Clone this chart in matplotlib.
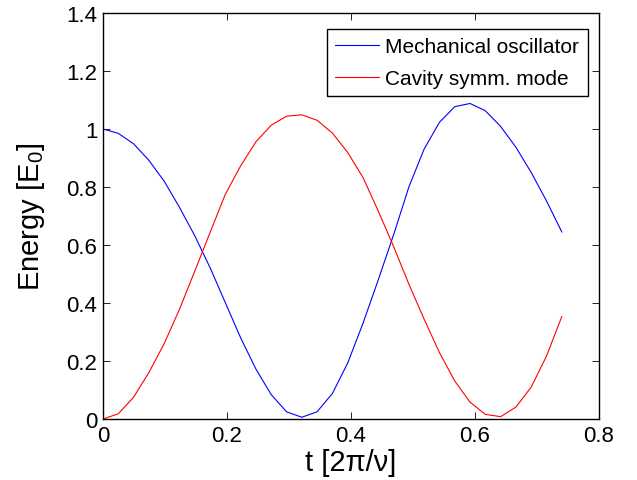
import numpy as np
import matplotlib
matplotlib.use("Agg")
import matplotlib.pyplot as plt

plt.rcParams['font.family'] = ['Liberation Sans', 'DejaVu Sans']
plt.rcParams['mathtext.fontset'] = 'custom'
plt.rcParams['mathtext.rm'] = 'Liberation Sans'
plt.rcParams['mathtext.it'] = 'Liberation Sans:italic'

t = np.linspace(0, 0.74, 31)
mechanical = [1.0, 0.985, 0.949, 0.892, 0.82, 0.73, 0.632, 0.522, 0.401, 0.28,
              0.172, 0.084, 0.025, 0.006, 0.025, 0.088, 0.193, 0.33, 0.48, 0.635,
              0.80, 0.931, 1.023, 1.077, 1.088, 1.063, 1.009, 0.937, 0.85, 0.752, 0.645]
cavity = [0.0, 0.018, 0.075, 0.16, 0.26, 0.378, 0.51, 0.643, 0.775, 0.873,
          0.956, 1.013, 1.044, 1.049, 1.03, 0.986, 0.919, 0.833, 0.717, 0.595,
          0.465, 0.344, 0.229, 0.131, 0.058, 0.016, 0.008, 0.041, 0.11, 0.217, 0.353]
series_labels = ['Mechanical oscillator', 'Cavity symm. mode']
xticks = [0, 0.2, 0.4, 0.6, 0.8]
xticklabels = ['0', '0.2', '0.4', '0.6', '0.8']
yticks = [0, 0.2, 0.4, 0.6, 0.8, 1.0, 1.2, 1.4]
yticklabels = ['0', '0.2', '0.4', '0.6', '0.8', '1', '1.2', '1.4']

fig = plt.figure(figsize=(6.37, 4.81), dpi=100)
ax = fig.add_axes([103/637, 1 - 420/481, (599-103)/637, (420-14)/481])

ax.plot(t, mechanical, color=(0, 0, 1), lw=0.8, label=series_labels[0])
ax.plot(t, cavity, color=(1, 0, 0), lw=0.8, label=series_labels[1])

ax.set_xlim(0, 0.8)
ax.set_ylim(0, 1.4)
ax.set_xticks(xticks)
ax.set_xticklabels(xticklabels)
ax.set_yticks(yticks)
ax.set_yticklabels(yticklabels)
ax.tick_params(direction='in', length=5, width=0.6, top=True, right=True,
               labelsize=16, pad=4)
for s in ax.spines.values():
    s.set_linewidth(1.0)

ax.set_xlabel('t [2π/ν]', fontsize=21, labelpad=2)
ax.set_ylabel('Energy [E$_0$]', fontsize=21, labelpad=14)

leg = ax.legend(loc='upper right', bbox_to_anchor=(1 - 11.5/496, 1 - 16/406),
                borderaxespad=0, fontsize=15, fancybox=False, framealpha=1,
                edgecolor='black', handlelength=2.1, handletextpad=0.3,
                borderpad=0.4, labelspacing=0.6)
leg.get_frame().set_linewidth(1.0)

fig.savefig('out.png', dpi=100)
